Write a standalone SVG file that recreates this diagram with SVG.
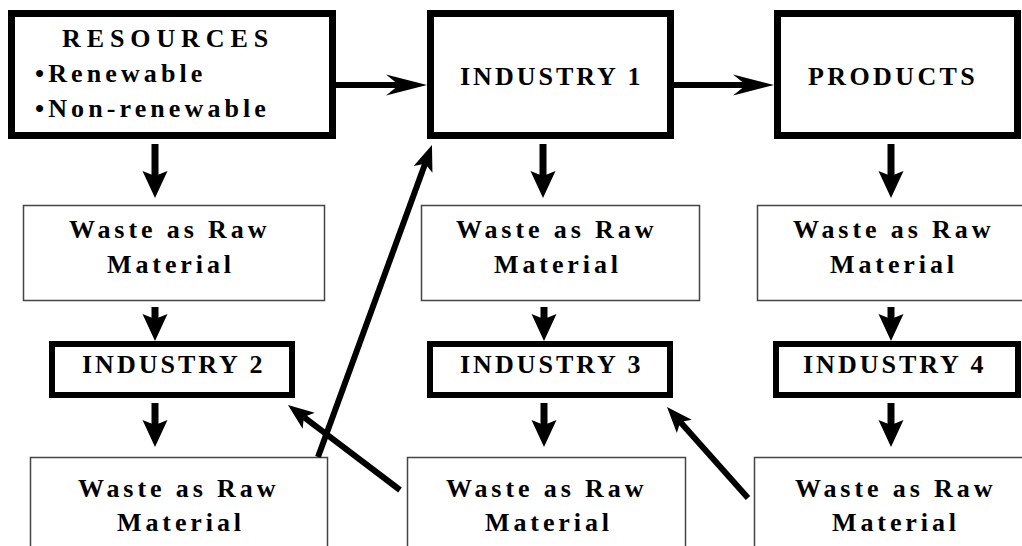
<svg xmlns="http://www.w3.org/2000/svg" width="1022" height="546" viewBox="0 0 1022 546">
<style>
.thick{fill:#fff;stroke:#000;stroke-width:7}
.mid{fill:#fff;stroke:#000;stroke-width:6}
.thin{fill:#fff;stroke:#444;stroke-width:1.5}
text{font-family:"Liberation Serif","Times New Roman",serif;font-weight:bold;font-size:26px;fill:#000;letter-spacing:3.9px}
.cap{letter-spacing:3px}
.prod{letter-spacing:3.4px}
.res{letter-spacing:5.9px}
.bul{letter-spacing:4.1px}
.c{fill:none;stroke:#000;stroke-width:6}
.cd{fill:none;stroke:#000;stroke-width:7}
</style>
<defs>
<marker id="ah" markerUnits="userSpaceOnUse" viewBox="-15 -12 45 24" markerWidth="45" markerHeight="24" refX="0" refY="0" orient="auto" overflow="visible">
<path d="M28,0 L-13,-10.5 L0,0 L-13,10.5 Z" fill="#000"/>
</marker>
<marker id="ad" markerUnits="userSpaceOnUse" viewBox="-6 -14 30 28" markerWidth="30" markerHeight="28" refX="0" refY="0" orient="auto" overflow="visible">
<path d="M22,0 L-5,-12.5 L0,0 L-5,12.5 Z" fill="#000"/>
</marker>
<marker id="ag" markerUnits="userSpaceOnUse" viewBox="-8 -12 30 24" markerWidth="30" markerHeight="24" refX="0" refY="0" orient="auto" overflow="visible">
<path d="M20,0 L-6,-10 L0,0 L-6,10 Z" fill="#000"/>
</marker>
</defs>

<g id="resources">
<rect class="thick" x="11.5" y="13.5" width="321" height="122"/>
<text class="res" x="62" y="47">RESOURCES</text>
<text class="bul" x="35" y="82">•Renewable</text>
<text class="bul" x="35" y="117">•Non-renewable</text>
</g>
<g id="industry1">
<rect class="thick" x="430.5" y="13.5" width="240" height="122"/>
<text class="cap" x="460" y="85">INDUSTRY 1</text>
</g>
<g id="products">
<rect class="thick" x="777.5" y="13.5" width="240" height="122"/>
<text class="prod" x="808" y="85">PRODUCTS</text>
</g>

<g id="waste1a">
<rect class="thin" x="23.5" y="205.5" width="301" height="95"/>
<text x="69" y="238">Waste as Raw</text>
<text x="107" y="273">Material</text>
</g>
<g id="waste1b">
<rect class="thin" x="421.5" y="205.5" width="278" height="95"/>
<text x="456" y="238">Waste as Raw</text>
<text x="494" y="273">Material</text>
</g>
<g id="waste1c">
<rect class="thin" x="757.5" y="205.5" width="280" height="95"/>
<text x="793" y="238">Waste as Raw</text>
<text x="830" y="273">Material</text>
</g>

<g id="industry2">
<rect class="mid" x="52" y="344" width="240" height="51"/>
<text class="cap" x="82" y="373">INDUSTRY 2</text>
</g>
<g id="industry3">
<rect class="mid" x="430" y="344" width="240" height="51"/>
<text class="cap" x="460" y="373">INDUSTRY 3</text>
</g>
<g id="industry4">
<rect class="mid" x="776" y="344" width="242" height="51"/>
<text class="cap" x="803" y="373">INDUSTRY 4</text>
</g>

<g id="waste2a">
<rect class="thin" x="30.5" y="457.5" width="297" height="100"/>
<text x="78" y="497">Waste as Raw</text>
<text x="117" y="531">Material</text>
</g>
<g id="waste2b">
<rect class="thin" x="407.5" y="457.5" width="278" height="100"/>
<text x="446" y="497">Waste as Raw</text>
<text x="485" y="531">Material</text>
</g>
<g id="waste2c">
<rect class="thin" x="754.5" y="457.5" width="280" height="100"/>
<text x="795" y="497">Waste as Raw</text>
<text x="832" y="531">Material</text>
</g>

<g id="connectors">
<line class="c" x1="336" y1="85" x2="399" y2="85" marker-end="url(#ah)"/>
<line class="c" x1="674" y1="85" x2="746" y2="85" marker-end="url(#ah)"/>

<line class="cd" x1="155" y1="144" x2="155" y2="176" marker-end="url(#ad)"/>
<line class="cd" x1="543" y1="144" x2="543" y2="176" marker-end="url(#ad)"/>
<line class="cd" x1="891" y1="144" x2="891" y2="176" marker-end="url(#ad)"/>

<line class="cd" x1="155" y1="307" x2="155" y2="319" marker-end="url(#ad)"/>
<line class="cd" x1="544" y1="307" x2="544" y2="319" marker-end="url(#ad)"/>
<line class="cd" x1="891" y1="307" x2="891" y2="319" marker-end="url(#ad)"/>

<line class="cd" x1="155" y1="403" x2="155" y2="425" marker-end="url(#ad)"/>
<line class="cd" x1="544" y1="403" x2="544" y2="425" marker-end="url(#ad)"/>
<line class="cd" x1="891" y1="403" x2="891" y2="425" marker-end="url(#ad)"/>

<line class="c" x1="318" y1="457" x2="425.1" y2="163.8" marker-end="url(#ag)"/>
<line class="c" x1="400" y1="490" x2="303.9" y2="417.1" marker-end="url(#ag)"/>
<line class="c" x1="748" y1="498" x2="680.3" y2="421.9" marker-end="url(#ag)"/>
</g>
</svg>
